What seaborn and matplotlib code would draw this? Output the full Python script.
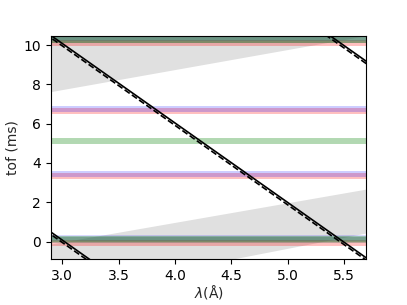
import matplotlib
matplotlib.use("Agg")
import matplotlib.pyplot as plt
import seaborn as sns

# ---- data ----
lam_span = [2.8, 5.8]                      # wavelength span used for horizontal bands
xlim = [2.9, 5.695]
ylim = [-0.88, 10.46]
xticks = [3.0, 3.5, 4.0, 4.5, 5.0, 5.5]
yticks = [0, 2, 4, 6, 8, 10]

# horizontal pulse bands (drawing order matters for colour mixing)
band_tof = [-0.06, 0.20, 0.12, 0.10,
            3.32, 3.45,
            5.10,
            6.62, 6.77,
            10.12, 10.36, 10.28, 10.26]
band_color = ["red", "blue", "green", "#3d6b4f",
              "red", "blue",
              "green",
              "red", "blue",
              "red", "blue", "green", "#3d6b4f"]
band_alpha = [0.25, 0.15, 0.3, 0.35,
              0.25, 0.2,
              0.3,
              0.25, 0.2,
              0.25, 0.15, 0.3, 0.35]

# grey wavelength-band regions (straight boundaries, endpoints at lam_span)
gray_top_lower = [7.53, 10.59]
gray_top_upper = [11.0, 11.0]
gray_bot_lower = [-2.80, 0.56]
gray_bot_upper = [-0.22, 2.78]

# diagonal chopper lines (solid) and their dashed companion
diag_lam = [2.85, 5.75]
diag_tof = [10.69, -1.05]
frame_shift = [-10.0, 0.0, 10.0]
dash_offset = -0.12

# ---- figure ----
sns.set_style("ticks")
plt.rcParams["font.size"] = 10
plt.rcParams["axes.edgecolor"] = "black"
plt.rcParams["xtick.color"] = "black"
plt.rcParams["ytick.color"] = "black"

fig, ax = plt.subplots(figsize=(4.07, 3.05), dpi=100)
fig.subplots_adjust(left=0.125, right=0.9, top=0.882, bottom=0.151)

ax.fill_between(lam_span, gray_top_lower, gray_top_upper, color="0.88", lw=0, zorder=1)
ax.fill_between(lam_span, gray_bot_lower, gray_bot_upper, color="0.88", lw=0, zorder=1)

for t, c, a in zip(band_tof, band_color, band_alpha):
    sns.lineplot(x=lam_span, y=[t, t], color=c, alpha=a, lw=4.3, ax=ax, zorder=2)

for s in frame_shift:
    sns.lineplot(x=diag_lam, y=[v + s for v in diag_tof], color="black", lw=1.2,
                 ax=ax, zorder=3)
    sns.lineplot(x=diag_lam, y=[v + s + dash_offset for v in diag_tof], color="black",
                 lw=1.2, ls="--", dashes=(2.5, 1.2), ax=ax, zorder=3)

ax.set_xlim(xlim)
ax.set_ylim(ylim)
ax.set_xticks(xticks)
ax.set_yticks(yticks)
ax.set_xlabel(r"$\lambda$(Å)", labelpad=0)
ax.set_ylabel("tof (ms)", labelpad=3)

fig.savefig("out.png", dpi=100)
